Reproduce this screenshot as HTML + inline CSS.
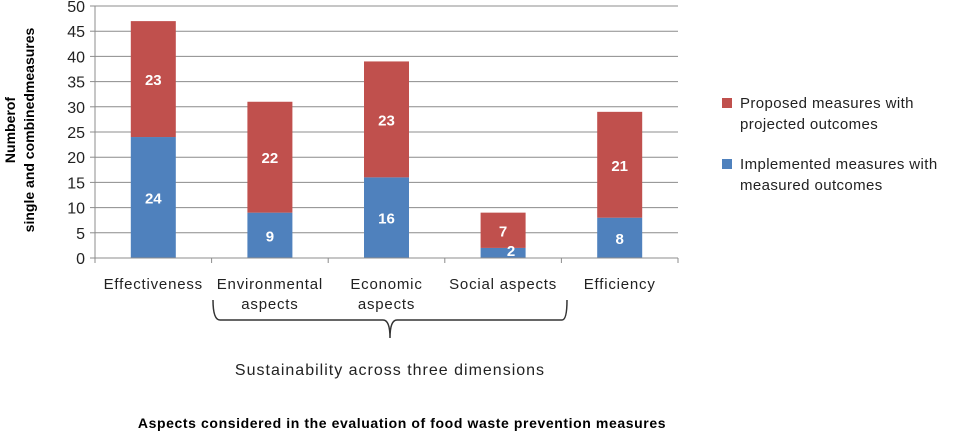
<!DOCTYPE html>
<html><head><meta charset="utf-8"><style>
body{margin:0;background:#fff;width:957px;height:435px;overflow:hidden;font-family:"Liberation Sans",sans-serif}
</style></head><body>
<svg width="957" height="435" xmlns="http://www.w3.org/2000/svg">
<g id="grid"></g>
<g id="bars"></g>
<g id="axes"></g>
<text transform="translate(15,130) rotate(-90)" text-anchor="middle" font-size="14" font-weight="bold" fill="#000">Numberof</text>
<text transform="translate(34,130) rotate(-90)" text-anchor="middle" font-size="14" font-weight="bold" fill="#000">single and combinedmeasures</text>
<rect x="722" y="98" width="10" height="10" fill="#c0504d"/>
<text x="740" y="108" font-size="15" letter-spacing="0.4" fill="#222">Proposed measures with</text>
<text x="740" y="129" font-size="15" letter-spacing="0.4" fill="#222">projected outcomes</text>
<rect x="722" y="159" width="10" height="10" fill="#4f81bd"/>
<text x="740" y="169" font-size="15" letter-spacing="0.4" fill="#222">Implemented measures with</text>
<text x="740" y="190" font-size="15" letter-spacing="0.4" fill="#222">measured outcomes</text>
<path d="M213,300 Q213,320 220,320 L383,320 Q390,320 390,338 Q390,320 397,320 L562,320 Q567,320 567,300" fill="none" stroke="#333" stroke-width="1.5"/>
<text x="390" y="375" text-anchor="middle" font-size="16" letter-spacing="1" fill="#222">Sustainability across three dimensions</text>
<text x="402" y="428" text-anchor="middle" font-size="14" letter-spacing="0.6" font-weight="bold" fill="#000">Aspects considered in the evaluation of food waste prevention measures</text>
</svg>
<script>
const categories=[["Effectiveness"],["Environmental","aspects"],["Economic","aspects"],["Social aspects"],["Efficiency"]];
const implemented=[24,9,16,2,8];
const proposed=[23,22,23,7,21];
const yTicks=[0,5,10,15,20,25,30,35,40,45,50];
const NS="http://www.w3.org/2000/svg";
const x0=95,x1=678,y0=258,yTop=6,ymax=50;
const y=v=>y0-(y0-yTop)*v/ymax;
const band=(x1-x0)/categories.length;
const xc=i=>x0+band*(i+0.5);
const bw=45;
function mk(tag,attrs,parent){const e=document.createElementNS(NS,tag);for(const k in attrs)e.setAttribute(k,attrs[k]);parent.appendChild(e);return e;}
const grid=document.getElementById('grid'),bars=document.getElementById('bars'),axes=document.getElementById('axes');
yTicks.forEach(t=>{
  if(t>0){const l=mk('line',{x1:x0,x2:x1,y1:y(t),y2:y(t),stroke:'#8c8c8c','stroke-width':1},grid);
  
  }
  const tk=mk('line',{x1:x0-5,x2:x0,y1:y(t),y2:y(t),stroke:'#8c8c8c'},axes);
  
  
  const tx=mk('text',{x:x0-10,y:y(t)+6,'text-anchor':'end','font-size':16,fill:'#222'},axes);
  tx.textContent=t;
  
  
});
categories.forEach((c,i)=>{
  const cx=xc(i);
  const b=mk('rect',{x:cx-bw/2,y:y(implemented[i]),width:bw,height:y0-y(implemented[i]),fill:'#4f81bd'},bars);
  
  
  const r=mk('rect',{x:cx-bw/2,y:y(implemented[i]+proposed[i]),width:bw,height:y(implemented[i])-y(implemented[i]+proposed[i]),fill:'#c0504d'},bars);
  
  
  const small=implemented[i]<4;
  const t1=mk('text',{x:small?cx+8:cx,y:small?y0-2:(y(implemented[i])+y0)/2+6,'text-anchor':'middle','font-size':15,'font-weight':'bold',fill:'#fff'},bars);
  t1.textContent=implemented[i];
  
  
  const t2=mk('text',{x:cx,y:(y(implemented[i])+y(implemented[i]+proposed[i]))/2+6,'text-anchor':'middle','font-size':15,'font-weight':'bold',fill:'#fff'},bars);
  t2.textContent=proposed[i];
  
  
  c.forEach((line,j)=>{
    const tl=mk('text',{x:cx,y:289+j*20,'text-anchor':'middle','font-size':15,'letter-spacing':0.8,fill:'#222'},axes);
    tl.textContent=line;
    
    
  });
});
for(let i=0;i<=categories.length;i++){
  const xx=x0+band*i;
  const tk=mk('line',{x1:xx,x2:xx,y1:y0,y2:y0+5,stroke:'#8c8c8c'},axes);
  
  
}
const ax=mk('line',{x1:x0,x2:x0,y1:yTop,y2:y0,stroke:'#8c8c8c'},axes);


const bx=mk('line',{x1:x0,x2:x1,y1:y0,y2:y0,stroke:'#8c8c8c'},axes);


</script>
</body></html>
